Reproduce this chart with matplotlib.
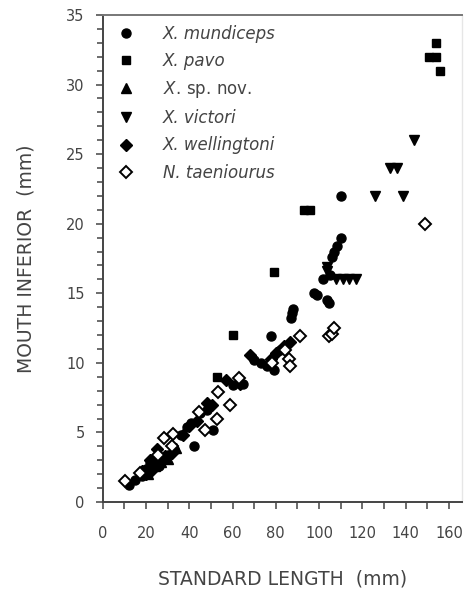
import matplotlib

matplotlib.use("Agg")
import matplotlib.pyplot as plt
from matplotlib.ticker import MultipleLocator

plt.rcParams["font.family"] = ["DejaVu Sans"]
plt.rcParams["mathtext.fontset"] = "custom"
plt.rcParams["mathtext.it"] = "DejaVu Sans:italic"
plt.rcParams["mathtext.rm"] = "DejaVu Sans"

# standard length (mm) vs mouth inferior (mm)
mundiceps_sl = [12, 15, 18, 20, 22, 24, 26, 28, 30, 33, 36, 39, 41, 42, 45, 48, 51, 60, 65, 70,
                73, 76, 78, 79, 82, 87, 87.5, 88, 97.5, 99, 103.7, 104.4, 102, 105, 106, 106.8,
                108.3, 110, 110]
mundiceps_mi = [1.2, 1.6, 1.9, 2.4, 2.8, 3.2, 2.6, 3.0, 3.4, 3.8, 4.8, 5.4, 5.7, 4.0, 6.4, 6.6,
                5.2, 8.4, 8.5, 10.2, 10.0, 9.8, 11.9, 9.5, 10.9, 13.2, 13.6, 13.9, 15.0, 14.9,
                14.5, 14.3, 16.0, 16.3, 17.6, 18.0, 18.4, 19.0, 22.0]

pavo_sl = [53, 60, 79, 93, 96, 151, 154, 154, 156]
pavo_mi = [9.0, 12.0, 16.5, 21.0, 21.0, 32.0, 32.0, 33.0, 31.0]

spnov_sl = [21, 24, 27, 30, 34]
spnov_mi = [2.0, 2.6, 2.9, 3.1, 3.9]

victori_sl = [103.7, 103.7, 108, 111, 114, 117, 126, 133, 136, 139, 144]
victori_mi = [16.9, 16.6, 16.0, 16.0, 16.0, 16.0, 22.0, 24.0, 24.0, 22.0, 26.0]

wellingtoni_sl = [18, 20, 22, 23, 25, 26, 29, 32, 37, 40, 43.5, 48, 50.5, 57, 63.6, 68, 78,
                  80, 84, 86.7]
wellingtoni_mi = [2.2, 2.0, 3.0, 2.3, 3.8, 3.0, 3.3, 3.5, 4.8, 5.5, 5.8, 7.1, 7.0, 8.8, 8.5,
                  10.6, 10.3, 10.7, 11.2, 11.5]

taeniourus_sl = [10.3, 17, 25.7, 28.1, 31.9, 32.7, 44.3, 47.4, 53, 53.5, 58.9, 62.8, 78.2,
                 84.4, 85.9, 86.7, 91, 104.4, 106, 106.8, 149]
taeniourus_mi = [1.5, 2.06, 3.4, 4.6, 4.0, 4.9, 6.5, 5.2, 6.0, 7.9, 7.0, 8.9, 10.0, 10.9, 10.3,
                 9.8, 11.9, 11.9, 12.1, 12.5, 20.0]

text_color = "#444444"

fig = plt.figure(figsize=(4.67, 5.97), dpi=100)
ax = fig.add_axes([0.22, 0.159, 0.769, 0.816])

ms = 6.5
ax.plot(mundiceps_sl, mundiceps_mi, "o", color="black", ms=ms, label="X. mundiceps")
ax.plot(pavo_sl, pavo_mi, "s", color="black", ms=ms - 0.3, label="X. pavo")
ax.plot(spnov_sl, spnov_mi, "^", color="black", ms=ms, label=r"$\it{X.}\,$sp. nov.")
ax.plot(victori_sl, victori_mi, "v", color="black", ms=ms, label="X. victori")
ax.plot(wellingtoni_sl, wellingtoni_mi, "D", color="black", ms=ms - 0.8,
        label="X. wellingtoni")
ax.plot(taeniourus_sl, taeniourus_mi, "D", mfc="white", mec="black", mew=1.4, ms=ms - 0.8,
        label="N. taeniourus")

ax.set_xlim(0, 166)
ax.set_ylim(0, 35)
ax.xaxis.set_major_locator(MultipleLocator(20))
ax.xaxis.set_minor_locator(MultipleLocator(10))
ax.yaxis.set_major_locator(MultipleLocator(5))
ax.yaxis.set_minor_locator(MultipleLocator(1))

ax.tick_params(which="both", direction="out", color="#444444", width=1.1, labelsize=10.5,
               labelcolor=text_color)
ax.tick_params(which="major", length=5)
ax.tick_params(axis="y", which="major", pad=8)
ax.tick_params(axis="x", which="major", pad=12)
ax.tick_params(which="minor", length=4)
ax.tick_params(axis="x", which="minor", length=5)

for side in ("left", "bottom"):
    ax.spines[side].set_color("#444444")
    ax.spines[side].set_linewidth(1.4)
ax.spines["top"].set_color("#777777")
ax.spines["top"].set_linewidth(1.4)
ax.spines["right"].set_color("#e6e6e6")
ax.spines["right"].set_linewidth(1.0)

ax.set_xlabel("STANDARD LENGTH  (mm)", fontsize=13.5, color=text_color, labelpad=21)
ax.set_ylabel("MOUTH INFERIOR  (mm)", fontsize=13.5, color=text_color, labelpad=22)

leg = ax.legend(loc="upper left", bbox_to_anchor=(0.03, 0.98), frameon=False, fontsize=12,
                borderpad=0, borderaxespad=0, labelspacing=0.55, handlelength=1.47,
                handletextpad=1.47)
for t in leg.get_texts():
    t.set_color(text_color)
    if "sp. nov." not in t.get_text():
        t.set_fontstyle("italic")

fig.savefig("out.png", dpi=100)
plt.close(fig)
